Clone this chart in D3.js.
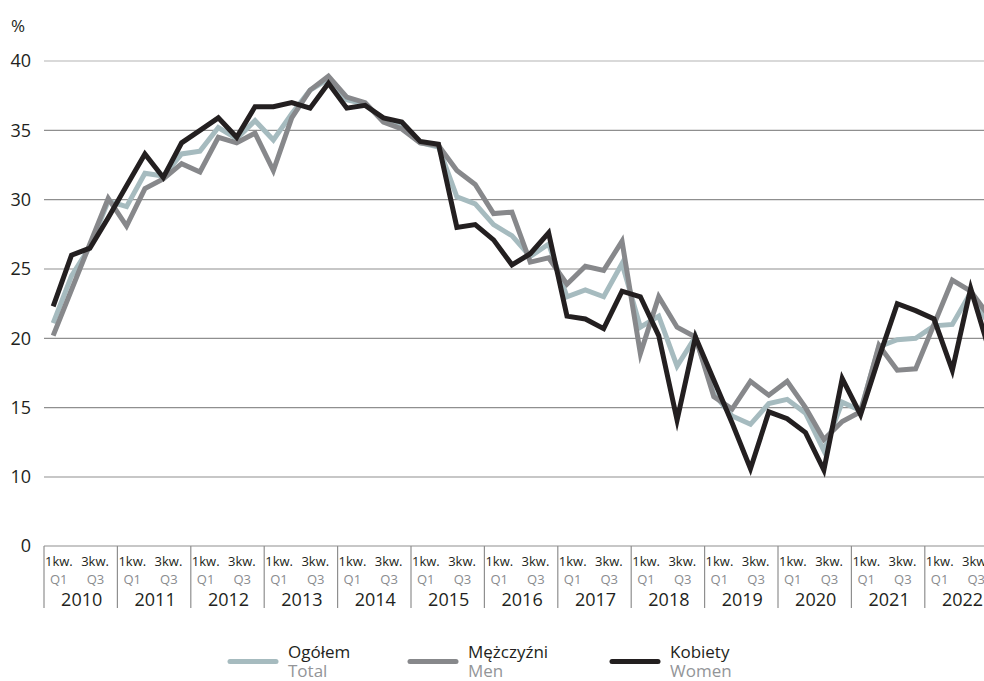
<!DOCTYPE html>
<html>
<head>
<meta charset="utf-8">
<script src="https://cdn.jsdelivr.net/npm/d3@7"></script>
<style>
  html, body { margin: 0; padding: 0; background: #fff; }
  svg { display: block; font-family: "Open Sans", "Noto Sans", sans-serif; }
</style>
</head>
<body>
<svg id="chart" width="984" height="681"></svg>
<script>
// Quarterly shares (%), 2010 Q1 – 2022 Q4
const years = ["2010","2011","2012","2013","2014","2015","2016","2017","2018","2019","2020","2021","2022"];
const quarterTop = ["1kw.", "3kw."];
const quarterBottom = ["Q1", "Q3"];
const yTicks = [0, 10, 15, 20, 25, 30, 35, 40];

const totalValues = [
  21.1, 24.5, 26.6, 29.9,
  29.5, 31.9, 31.7, 33.3,
  33.5, 35.2, 34.4, 35.7,
  34.3, 36.2, 37.9, 38.7,
  37.2, 36.9, 35.7, 35.2,
  34.1, 33.8, 30.2, 29.7,
  28.2, 27.4, 25.9, 26.8,
  23.0, 23.5, 23.0, 25.4,
  20.8, 21.6, 18.0, 20.1,
  16.0, 14.4, 13.8, 15.3,
  15.6, 14.6, 11.9, 15.4,
  14.8, 19.4, 19.9, 20.0,
  20.9, 21.0, 23.3, 21.0
];
const menValues = [
  20.2, 23.5, 26.8, 30.1,
  28.1, 30.8, 31.5, 32.6,
  32.0, 34.5, 34.1, 34.8,
  32.1, 35.9, 37.9, 38.9,
  37.4, 37.0, 35.6, 35.1,
  34.1, 33.9, 32.1, 31.1,
  29.0, 29.1, 25.5, 25.8,
  23.9, 25.2, 24.9, 27.0,
  18.9, 23.0, 20.8, 20.1,
  15.8, 14.9, 16.9, 15.9,
  16.9, 15.0, 12.7, 14.0,
  14.7, 19.5, 17.7, 17.8,
  21.0, 24.2, 23.4, 21.6
];
const womenValues = [
  22.3, 26.0, 26.5, 28.7,
  31.0, 33.3, 31.6, 34.1,
  35.0, 35.9, 34.5, 36.7,
  36.7, 37.0, 36.6, 38.4,
  36.6, 36.8, 35.9, 35.6,
  34.2, 34.0, 28.0, 28.2,
  27.1, 25.3, 26.1, 27.6,
  21.6, 21.4, 20.7, 23.4,
  23.0, 20.2, 14.1, 20.1,
  17.0, 13.9, 10.6, 14.7,
  14.2, 13.2, 10.5, 17.1,
  14.5, 18.6, 22.5, 22.0,
  21.4, 17.7, 23.6, 19.2
];

const seriesNames = ["Ogółem", "Mężczyźni", "Kobiety"];
const seriesNamesEn = ["Total", "Men", "Women"];
const seriesColors = ["#a6bbbf", "#87888b", "#231f20"];

const svg = d3.select("#chart");
const left = 44, right = 984;
const quarterCount = years.length * 4;

// x: quarter index (points sit at quarter centres)
const x = d3.scaleLinear().domain([0, quarterCount]).range([left, left + quarterCount * 18.35]);
// y: broken axis — the gap between 0 and 10 is compressed
const y = d3.scaleLinear().domain([0, 10, 40]).range([546, 477, 61]);

// gridlines
svg.append("g")
  .selectAll("line")
  .data(yTicks.filter(d => d > 0))
  .join("line")
  .attr("x1", left).attr("x2", right)
  .attr("y1", d => y(d)).attr("y2", d => y(d))
  .attr("stroke", d => d === 40 ? "#b4b4b4" : "#8f8f8f")
  .attr("stroke-width", 1.2);

// y tick labels
const yAxis = svg.append("g")
  .attr("transform", `translate(${left},0)`)
  .call(d3.axisLeft(y).tickValues(yTicks).tickSize(0).tickPadding(13).tickFormat(d3.format("d")));
yAxis.select(".domain").remove();
yAxis.selectAll("text")
  .attr("font-family", "Open Sans, sans-serif")
  .attr("font-size", 18)
  .attr("fill", "#231f20");

svg.append("text")
  .attr("x", 11).attr("y", 32)
  .attr("font-size", 17)
  .attr("fill", "#231f20")
  .text("%");

// x axis baseline and year separators
const axisG = svg.append("g");
axisG.append("line")
  .attr("x1", left).attr("x2", right)
  .attr("y1", y(0)).attr("y2", y(0))
  .attr("stroke", "#8f8f8f").attr("stroke-width", 1.2);

const yearG = axisG.selectAll("g.year")
  .data(years)
  .join("g")
  .attr("class", "year")
  .attr("transform", (d, i) => `translate(${x(i * 4)},0)`);

yearG.append("line")
  .attr("x1", 0).attr("x2", 0)
  .attr("y1", y(0)).attr("y2", 608)
  .attr("stroke", "#8f8f8f").attr("stroke-width", 1.2);

const qStep = x(1) - x(0);
quarterTop.forEach((lbl, k) => {
  yearG.append("text")
    .attr("x", k * 2 * qStep + 1 - k * 0.5)
    .attr("y", 566)
    .attr("font-size", 13)
    .attr("fill", "#231f20")
    .text(lbl);
});
quarterBottom.forEach((lbl, k) => {
  yearG.append("text")
    .attr("x", k * 2 * qStep + 6)
    .attr("y", 583.5)
    .attr("font-size", 13)
    .attr("fill", "#8a8c8f")
    .text(lbl);
});
yearG.append("text")
  .attr("x", 2 * qStep + 1)
  .attr("y", 605.5)
  .attr("text-anchor", "middle")
  .attr("font-size", 18)
  .attr("fill", "#231f20")
  .text(d => d);

// series lines (total first, women on top)
const line = d3.line()
  .x((d, i) => x(i + 0.5))
  .y(d => y(d));

const allSeries = [totalValues, menValues, womenValues];
svg.append("g")
  .selectAll("path")
  .data(allSeries)
  .join("path")
  .attr("d", d => line(d))
  .attr("fill", "none")
  .attr("stroke", (d, i) => seriesColors[i])
  .attr("stroke-width", 5)
  .attr("stroke-linejoin", "miter")
  .attr("stroke-miterlimit", 10);

// legend
const legendX = [228, 408, 610];
const legend = svg.append("g")
  .selectAll("g")
  .data(seriesNames)
  .join("g")
  .attr("transform", (d, i) => `translate(${legendX[i]},0)`);
legend.append("line")
  .attr("x1", 2).attr("x2", 48)
  .attr("y1", 661.5).attr("y2", 661.5)
  .attr("stroke", (d, i) => seriesColors[i])
  .attr("stroke-width", 5)
  .attr("stroke-linecap", "round");
legend.append("text")
  .attr("x", 60).attr("y", 657.5)
  .attr("font-size", 17)
  .attr("fill", "#231f20")
  .text(d => d);
legend.append("text")
  .attr("x", 60).attr("y", 677)
  .attr("font-size", 17)
  .attr("fill", "#939598")
  .text((d, i) => seriesNamesEn[i]);
</script>
</body>
</html>
